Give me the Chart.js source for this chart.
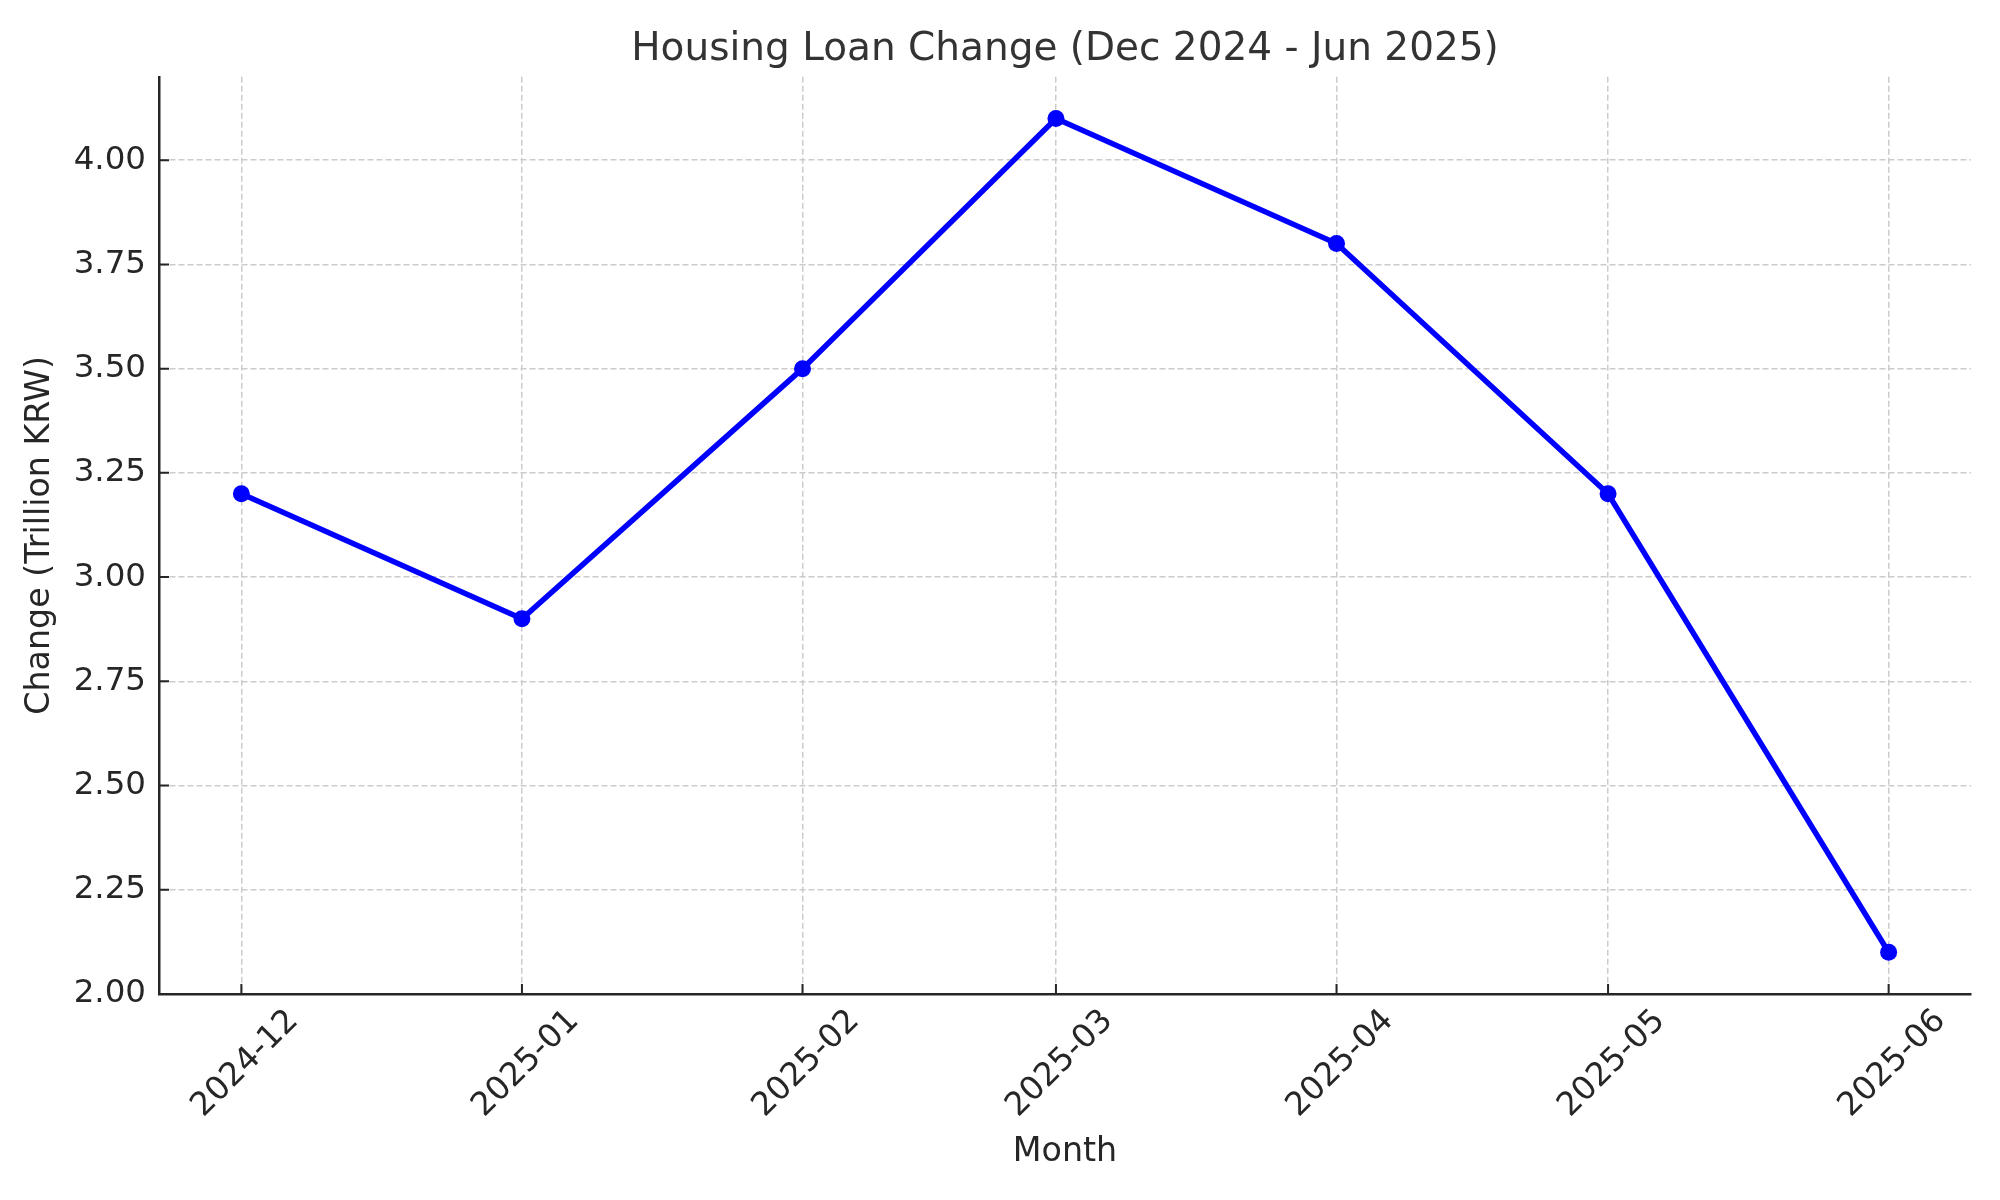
<!DOCTYPE html>
<html>
<head>
<meta charset="utf-8">
<title>Housing Loan Change</title>
<script src="https://cdn.jsdelivr.net/npm/chart.js@4.4.1/dist/chart.umd.min.js"></script>
<style>
  html, body { margin: 0; padding: 0; background: #ffffff; }
  #wrap { width: 2000px; height: 1200px; }
</style>
</head>
<body>
<div id="wrap"><canvas id="ctx" width="2000" height="1200"></canvas></div>
<script>
'use strict';
const months = ['2024-12', '2025-01', '2025-02', '2025-03', '2025-04', '2025-05', '2025-06'];
const loanChange = [3.2, 2.9, 3.5, 4.1, 3.8, 3.2, 2.1];
const yTicks = [2.0, 2.25, 2.5, 2.75, 3.0, 3.25, 3.5, 3.75, 4.0];

// months sit on a real time axis (days since the first month)
const DAY = 24 * 3600 * 1000;
const toDays = (m) => {
  const [y, mo] = m.split('-').map(s => parseInt(s, 10));
  const [y0, mo0] = months[0].split('-').map(s => parseInt(s, 10));
  return (Date.UTC(y, mo - 1, 1) - Date.UTC(y0, mo0 - 1, 1)) / DAY;
};
const xDays = months.map(toDays);
const xSpan = xDays[xDays.length - 1] - xDays[0];
const ySpan = Math.max(...loanChange) - Math.min(...loanChange);

const textColor = '#262626';
const gridColor = '#cccccc';

// short inward tick marks like the original
const innerTicks = {
  id: 'innerTicks',
  afterDraw(chart) {
    const {ctx, chartArea, scales} = chart;
    ctx.save();
    ctx.strokeStyle = textColor;
    ctx.lineWidth = 2;
    ctx.beginPath();
    scales.x.ticks.forEach(t => {
      const px = scales.x.getPixelForValue(t.value);
      ctx.moveTo(px, chartArea.bottom);
      ctx.lineTo(px, chartArea.bottom - 10);
    });
    scales.y.ticks.forEach(t => {
      const py = scales.y.getPixelForValue(t.value);
      ctx.moveTo(chartArea.left, py);
      ctx.lineTo(chartArea.left + 10, py);
    });
    ctx.stroke();
    ctx.restore();
  }
};

const chart = new Chart(document.getElementById('ctx'), {
  type: 'line',
  data: {
    datasets: [{
      data: xDays.map((d, i) => ({x: d, y: loanChange[i]})),
      borderColor: '#0000ff',
      backgroundColor: '#0000ff',
      borderWidth: 5.5,
      pointRadius: 8.5,
      pointHoverRadius: 8.5,
      pointBorderWidth: 0,
      tension: 0,
      clip: false
    }]
  },
  options: {
    responsive: false,
    animation: false,
    layout: { padding: { left: 0, right: 29, top: 0, bottom: 0 } },
    plugins: {
      legend: { display: false },
      tooltip: { enabled: false },
      title: {
        display: true,
        fullSize: false,
        text: 'Housing Loan Change (Dec 2024 - Jun 2025)',
        color: '#333333',
        font: { family: 'DejaVu Sans', size: 39, weight: 'normal', lineHeight: 1.2 },
        padding: { top: 26, bottom: 4 }
      }
    },
    scales: {
      x: {
        type: 'linear',
        min: xDays[0] - xSpan * 0.05,
        max: xDays[xDays.length - 1] + xSpan * 0.05,
        afterBuildTicks: (scale) => { scale.ticks = xDays.map(v => ({value: v})); },
        afterFit: (scale) => { scale.height = 1200 - 994; },
        ticks: {
          color: textColor,
          font: { family: 'DejaVu Sans', size: 32.5 },
          minRotation: 45,
          maxRotation: 45,
          autoSkip: false,
          padding: 8,
          labelOffset: 52,
          callback: (v) => months[xDays.indexOf(v)]
        },
        grid: { color: gridColor, lineWidth: 1.5, drawTicks: false },
        border: { display: true, color: textColor, width: 2.5, dash: [6, 3] },
        title: {
          display: true,
          text: 'Month',
          color: textColor,
          font: { family: 'DejaVu Sans', size: 33.3, lineHeight: 1.2 },
          padding: { top: 0, bottom: 28 }
        }
      },
      y: {
        type: 'linear',
        min: Math.min(...loanChange) - ySpan * 0.05,
        max: Math.max(...loanChange) + ySpan * 0.05,
        afterBuildTicks: (scale) => { scale.ticks = yTicks.map(v => ({value: v})); },
        afterFit: (scale) => { scale.width = 159; },
        ticks: {
          color: textColor,
          font: { family: 'DejaVu Sans', size: 32.5 },
          padding: 13,
          callback: (v) => v.toFixed(2)
        },
        grid: { color: gridColor, lineWidth: 1.5, drawTicks: false },
        border: { display: true, color: textColor, width: 2.5, dash: [6, 3] },
        title: {
          display: true,
          text: 'Change (Trillion KRW)',
          color: textColor,
          font: { family: 'DejaVu Sans', size: 33.3, lineHeight: 1.2 },
          padding: { top: 20, bottom: 0 }
        }
      }
    }
  },
  plugins: [innerTicks]
});
</script>
</body>
</html>
